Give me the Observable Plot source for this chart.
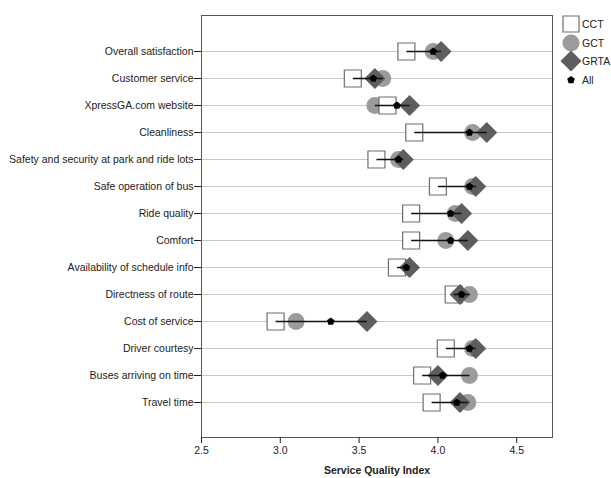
<!DOCTYPE html>
<html>
<head>
<meta charset="utf-8">
<script src="https://cdn.jsdelivr.net/npm/d3@7"></script>
<script src="https://cdn.jsdelivr.net/npm/@observablehq/plot@0.6"></script>
<style>
  html, body { margin: 0; padding: 0; background: #fff; }
  #wrap { position: relative; width: 611px; height: 478px; }
  #legend { position: absolute; left: 560px; top: 15px; font: 10.5px "Liberation Sans", Arial, sans-serif; color: #222; }
  #legend .item { display: flex; align-items: center; height: 18.5px; }
  #legend span { color: #222; }
  #legend svg { width: 22px; height: 22px; margin-right: 0px; overflow: visible; }
  svg [aria-label="x-axis label"] text, svg [aria-label="x-axis label"] { font-weight: bold; }
</style>
</head>
<body>
<div id="wrap"><div id="chart"></div><div id="legend"></div></div>
<script>
const categories = [
  "Overall satisfaction",
  "Customer service",
  "XpressGA.com website",
  "Cleanliness",
  "Safety and security at park and ride lots",
  "Safe operation of bus",
  "Ride quality",
  "Comfort",
  "Availability of schedule info",
  "Directness of route",
  "Cost of service",
  "Driver courtesy",
  "Buses arriving on time",
  "Travel time"
];
const cct  = [3.80, 3.46, 3.68, 3.85, 3.61, 4.00, 3.83, 3.83, 3.74, 4.10, 2.97, 4.05, 3.90, 3.96];
const gct  = [3.97, 3.65, 3.60, 4.22, 3.75, 4.22, 4.11, 4.05, 3.79, 4.20, 3.10, 4.22, 4.20, 4.19];
const grta = [4.02, 3.60, 3.82, 4.31, 3.78, 4.24, 4.15, 4.19, 3.82, 4.14, 3.55, 4.24, 4.00, 4.14];
const all  = [3.97, 3.59, 3.74, 4.20, 3.75, 4.20, 4.08, 4.08, 3.80, 4.15, 3.32, 4.20, 4.03, 4.12];
const xTicks = [2.5, 3.0, 3.5, 4.0, 4.5];
const groups = ["CCT", "GCT", "GRTA", "All"];

const rows = categories.map((cat, i) => ({
  cat, cct: cct[i], gct: gct[i], grta: grta[i], all: all[i],
  min: Math.min(cct[i], gct[i], grta[i]),
  max: Math.max(cct[i], gct[i], grta[i])
}));

const squareSym = { draw(ctx, size) { const r = Math.sqrt(size / Math.PI); ctx.rect(-r, -r, 2 * r, 2 * r); ctx.closePath(); } };
const diamondSym = { draw(ctx, size) { const r = Math.sqrt(size / Math.PI); ctx.moveTo(0, -r); ctx.lineTo(r, 0); ctx.lineTo(0, r); ctx.lineTo(-r, 0); ctx.closePath(); } };
const pentagonSym = { draw(ctx, size) { const r = Math.sqrt(size / Math.PI);
  for (let k = 0; k < 5; k++) { const a = -Math.PI / 2 + k * 2 * Math.PI / 5; const px = r * Math.cos(a), py = r * Math.sin(a); if (k === 0) ctx.moveTo(px, py); else ctx.lineTo(px, py); }
  ctx.closePath(); } };

const font = '"Liberation Sans", Arial, sans-serif';

const chart = Plot.plot({
  width: 611,
  height: 478,
  marginLeft: 201,
  marginRight: 59,
  marginTop: 15,
  marginBottom: 41,
  style: { fontFamily: font, fontSize: "10px", color: "#222", background: "white" },
  x: { domain: [2.5, 4.727] },
  y: { domain: categories, type: "point", padding: 1.29 },
  marks: [
    Plot.gridY({ stroke: "#c8c8c8", strokeOpacity: 1, strokeWidth: 1.2 }),
    Plot.dot(rows, { x: "gct", y: "cat", r: 8.5, fill: "#9b9b9b", stroke: null }),
    Plot.dot(rows, { x: "cct", y: "cat", symbol: squareSym, r: 8.5, fill: "white", stroke: "#6e6e6e", strokeWidth: 1.2 }),
    Plot.dot(rows, { x: "grta", y: "cat", symbol: diamondSym, r: 10.5, fill: "#5e5e5e", stroke: null }),
    Plot.link(rows, { x1: "min", x2: "max", y1: "cat", y2: "cat", stroke: "#111", strokeWidth: 1.5 }),
    Plot.dot(rows, { x: "all", y: "cat", symbol: pentagonSym, r: 4, fill: "#000", stroke: null }),
    Plot.frame({ stroke: "#555", strokeWidth: 1 }),
    Plot.axisY({ tickSize: 7, tickPadding: 1, label: null, stroke: "#222", fontSize: 10.5, fill: "#222" }),
    Plot.axisX({ ticks: xTicks, tickFormat: d3.format(".1f"), tickSize: 6, tickPadding: 3, fontSize: 10.5, label: "Service Quality Index", labelAnchor: "center", labelArrow: "none", labelOffset: 36, fill: "#222" })
  ]
});
document.getElementById("chart").appendChild(chart);

// legend
const legend = d3.select("#legend");
const symDefs = [
  { name: groups[0], sym: squareSym, r: 8, fill: "white", stroke: "#6e6e6e" },
  { name: groups[1], sym: d3.symbolCircle, r: 8.5, fill: "#9b9b9b", stroke: "none" },
  { name: groups[2], sym: diamondSym, r: 10.5, fill: "#5e5e5e", stroke: "none" },
  { name: groups[3], sym: pentagonSym, r: 4, fill: "#000", stroke: "none" }
];
for (const s of symDefs) {
  const it = legend.append("div").attr("class", "item");
  const sv = it.append("svg").attr("viewBox", "-11 -11 22 22");
  sv.append("path").attr("d", d3.symbol(s.sym, s.r * s.r * Math.PI)()).attr("fill", s.fill).attr("stroke", s.stroke).attr("stroke-width", 1.2);
  it.append("span").text(s.name);
}
</script>
</body>
</html>
